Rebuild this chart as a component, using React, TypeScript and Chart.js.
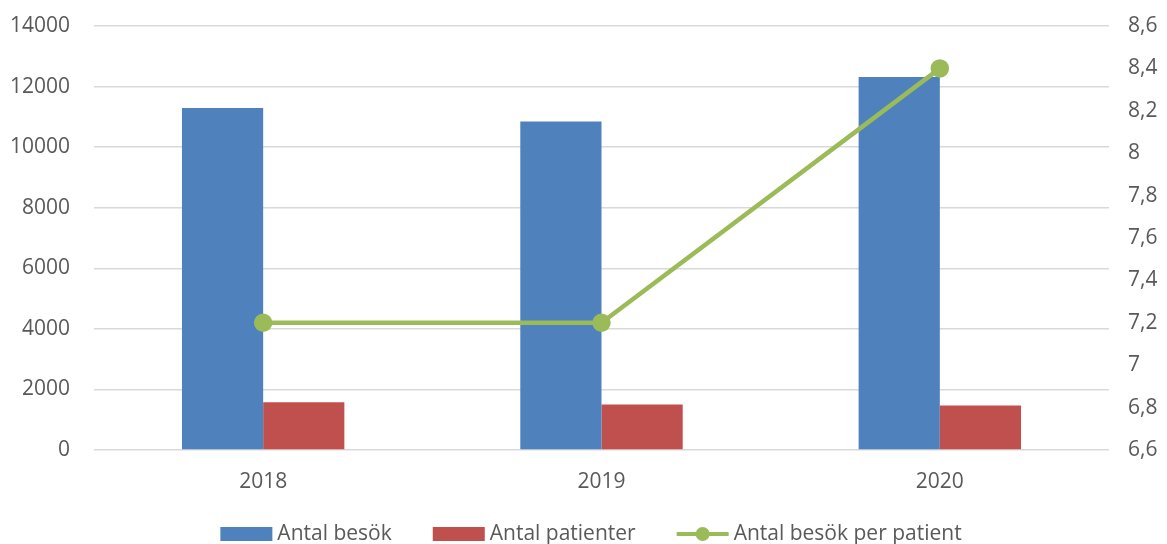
import React, { useEffect, useRef } from "react";
import { Chart, registerables } from "chart.js";

Chart.register(...registerables);

const categories = ["2018", "2019", "2020"];
const visits = [11290, 10850, 12320];
const patients = [1575, 1505, 1470];
const visitsPerPatient = [7.2, 7.2, 8.4];
const leftTicks = { min: 0, max: 14000, step: 2000 };
const rightTicks = { min: 6.6, max: 8.6, step: 0.2 };

const FONT = "'Open Sans', sans-serif";
const TEXT = "#595959";

const legendPlugin = {
  id: "customLegend",
  afterDraw(chart: any) {
    const ctx = chart.ctx;
    ctx.save();
    ctx.font = `21px ${FONT}`;
    ctx.fillStyle = TEXT;
    ctx.textBaseline = "middle";
    const y = 534;
    const items = chart.data.datasets.map((ds: any) => ({
      label: ds.label,
      color: ds.type === "line" ? ds.borderColor : ds.backgroundColor,
      isLine: ds.type === "line",
    }));
    const order = [1, 2, 0];
    const list = order.map((i) => items[i]);
    const symW = 52;
    const gap = 5;
    const between = 41;
    const widths = list.map((it: any) => symW + gap + ctx.measureText(it.label).width);
    const total = widths.reduce((a: number, b: number) => a + b, 0) + between * (list.length - 1);
    let x = 591 - total / 2;
    list.forEach((it: any, i: number) => {
      if (it.isLine) {
        ctx.strokeStyle = it.color;
        ctx.lineWidth = 4;
        ctx.beginPath();
        ctx.moveTo(x, y);
        ctx.lineTo(x + symW, y);
        ctx.stroke();
        ctx.fillStyle = it.color;
        ctx.beginPath();
        ctx.arc(x + symW / 2, y, 7, 0, Math.PI * 2);
        ctx.fill();
      } else {
        ctx.fillStyle = it.color;
        ctx.fillRect(x, y - 7, symW, 14);
      }
      ctx.fillStyle = TEXT;
      ctx.fillText(it.label, x + symW + gap, y);
      x += widths[i] + between;
    });
    ctx.restore();
  },
};

function fmt(v: number) {
  const r = Math.round(v * 10) / 10;
  return r.toString().replace(".", ",");
}

export default function App() {
  const ref = useRef<HTMLCanvasElement>(null);
  useEffect(() => {
    if (!ref.current) return;
    const chart = new Chart(ref.current, {
      data: {
        labels: categories,
        datasets: [
          {
            type: "line",
            label: "Antal besök per patient",
            data: visitsPerPatient,
            yAxisID: "y1",
            borderColor: "#9bbb59",
            backgroundColor: "#9bbb59",
            borderWidth: 4.5,
            pointRadius: 7,
            pointHoverRadius: 7,
            pointBackgroundColor: "#9bbb59",
            pointBorderColor: "#9bbb59",
            order: 0,
          } as any,
          {
            type: "bar",
            label: "Antal besök",
            data: visits,
            yAxisID: "y",
            backgroundColor: "#4f81bd",
            categoryPercentage: 0.48,
            barPercentage: 1,
            order: 1,
          },
          {
            type: "bar",
            label: "Antal patienter",
            data: patients,
            yAxisID: "y",
            backgroundColor: "#c0504d",
            categoryPercentage: 0.48,
            barPercentage: 1,
            order: 1,
          },
        ],
      },
      options: {
        animation: false,
        responsive: false,
        layout: { padding: { top: 26, left: 0, right: 0, bottom: 0 } },
        plugins: { legend: { display: false }, tooltip: { enabled: false } },
        scales: {
          x: {
            grid: { display: false },
            border: { display: false },
            ticks: { font: { family: FONT, size: 21 }, color: TEXT, padding: 11 },
            afterFit: (s: any) => {
              s.height = 94;
              s.paddingLeft = 0;
              s.paddingRight = 0;
            },
          },
          y: {
            position: "left",
            min: leftTicks.min,
            max: leftTicks.max,
            ticks: {
              stepSize: leftTicks.step,
              font: { family: FONT, size: 21 },
              color: TEXT,
              padding: 24,
              callback: (v: any) => String(v),
            },
            grid: { color: "#d9d9d9", lineWidth: 1.5, drawTicks: false },
            border: { display: false },
            afterFit: (s: any) => {
              s.width = 94;
              s.paddingTop = 0;
              s.paddingBottom = 0;
            },
          },
          y1: {
            position: "right",
            min: rightTicks.min,
            max: rightTicks.max,
            ticks: {
              stepSize: rightTicks.step,
              font: { family: FONT, size: 21 },
              color: TEXT,
              padding: 19,
              autoSkip: false,
              callback: (v: any) => fmt(Number(v)),
            },
            grid: { display: false, drawTicks: false },
            border: { display: false },
            afterFit: (s: any) => {
              s.width = 58;
              s.paddingTop = 0;
              s.paddingBottom = 0;
            },
          },
        },
      } as any,
      plugins: [legendPlugin],
    });
    return () => chart.destroy();
  }, []);
  return (
    <div style={{ position: "absolute", left: 0, top: 0, width: 1167, height: 544, background: "#fff" }}>
      <canvas ref={ref} width={1167} height={544} />
    </div>
  );
}
